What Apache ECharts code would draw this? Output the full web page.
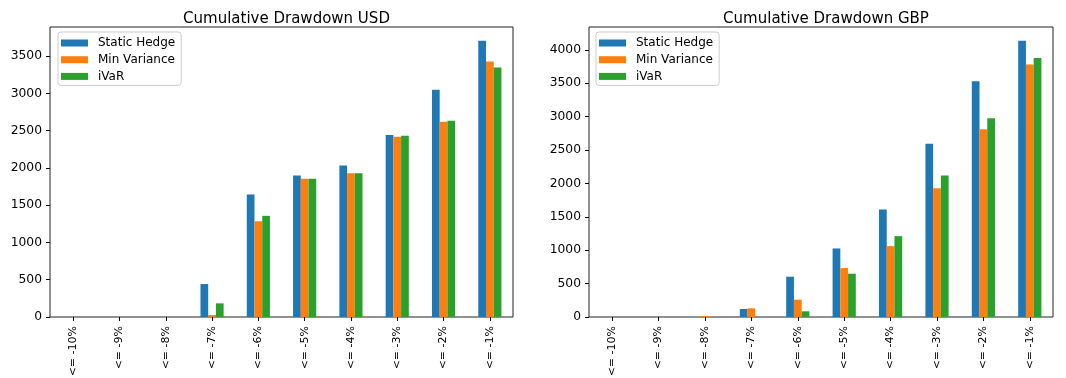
<!DOCTYPE html>
<html>
<head>
<meta charset="utf-8">
<script src="https://cdn.jsdelivr.net/npm/echarts@6/dist/echarts.min.js"></script>
<style>
  html, body { margin: 0; padding: 0; background: #fff; }
  #chart { width: 1066px; height: 378px; }
</style>
</head>
<body>
<div id="chart"></div>
<script>
// Drawdown buckets shared by both panels
const categories = ['<= -10%', '<= -9%', '<= -8%', '<= -7%', '<= -6%', '<= -5%', '<= -4%', '<= -3%', '<= -2%', '<= -1%'];
const seriesNames = ['Static Hedge', 'Min Variance', 'iVaR'];

// USD panel counts
const usdStatic = [0, 0, 0, 442, 1643, 1897, 2031, 2442, 3049, 3705];
const usdMinVar = [0, 0, 0, 27, 1286, 1853, 1928, 2419, 2620, 3428];
const usdIvar   = [0, 0, 0, 183, 1357, 1853, 1928, 2433, 2634, 3348];

// GBP panel counts
const gbpStatic = [0, 0, 0, 120, 603, 1026, 1609, 2595, 3527, 4134];
const gbpMinVar = [0, 0, 15, 130, 259, 732, 1061, 1928, 2809, 3781];
const gbpIvar   = [0, 0, 0, 0, 85, 648, 1210, 2117, 2974, 3875];

// y tick labels
const usdTicks = [0, 500, 1000, 1500, 2000, 2500, 3000, 3500];
const gbpTicks = [0, 500, 1000, 1500, 2000, 2500, 3000, 3500, 4000];

const colors = ['#1f77b4', '#ff7f0e', '#2ca02c'];
const FONT = 'DejaVu Sans';

const grids = [
  { left: 50, top: 27, width: 463, height: 290 },
  { left: 589, top: 27, width: 464, height: 290 }
];

function yMax(arrs) {
  return Math.max(...arrs.map(a => Math.max(...a))) * 1.05;
}

function xAxis(i) {
  return {
    type: 'category', gridIndex: i, data: categories,
    axisLine: { show: false },
    axisTick: { show: true, alignWithLabel: true, length: 4, lineStyle: { color: '#000' } },
    axisLabel: { rotate: 90, margin: 9, color: '#000', fontFamily: FONT, fontSize: 11 },
    splitLine: { show: false }
  };
}

function yAxis(i, ticks, max) {
  return {
    type: 'value', gridIndex: i, min: 0, max: max,
    axisLine: { show: false },
    axisTick: { show: true, length: 4, lineStyle: { color: '#000' }, customValues: ticks },
    axisLabel: {
      margin: 8, color: '#000', fontFamily: FONT, fontSize: 12.3,
      customValues: ticks, formatter: v => String(v)
    },
    splitLine: { show: false }
  };
}

function bars(i, arrs) {
  return arrs.map((d, k) => ({
    name: seriesNames[k], type: 'bar', xAxisIndex: i, yAxisIndex: i,
    data: d, barWidth: '16.67%', barGap: '0%',
    itemStyle: { color: colors[k] },
    emphasis: { disabled: true }, animation: false
  }));
}

function legend(left) {
  return {
    orient: 'vertical', left: left, top: 32,
    data: seriesNames, selectedMode: false,
    icon: 'rect', itemWidth: 27, itemHeight: 7, itemGap: 2.7,
    padding: [4, 6, 2, 3],
    borderColor: '#cccccc', borderWidth: 1, borderRadius: 3,
    backgroundColor: 'rgba(255,255,255,0.8)',
    textStyle: { color: '#000', fontFamily: FONT, fontSize: 12, lineHeight: 14, padding: [0, 0, 0, 5] }
  };
}

function title(text, cx) {
  return {
    text: text, left: cx, top: 7, textAlign: 'center',
    textStyle: { color: '#000', fontFamily: FONT, fontSize: 15, fontWeight: 'normal' }
  };
}

const usdArrs = [usdStatic, usdMinVar, usdIvar];
const gbpArrs = [gbpStatic, gbpMinVar, gbpIvar];

const chart = echarts.init(document.getElementById('chart'), null, { renderer: 'canvas' });
chart.setOption({
  animation: false,
  color: colors,
  title: [
    title('Cumulative Drawdown USD', grids[0].left + grids[0].width / 2),
    title('Cumulative Drawdown GBP', grids[1].left + grids[1].width / 2)
  ],
  legend: [legend(58), legend(596)],
  grid: grids.map(g => Object.assign({
    show: true, borderColor: '#222', borderWidth: 1, backgroundColor: 'transparent',
    containLabel: false, outerBoundsMode: 'none'
  }, g)),
  xAxis: [xAxis(0), xAxis(1)],
  yAxis: [yAxis(0, usdTicks, yMax(usdArrs)), yAxis(1, gbpTicks, yMax(gbpArrs))],
  series: [...bars(0, usdArrs), ...bars(1, gbpArrs)]
});
</script>
</body>
</html>
